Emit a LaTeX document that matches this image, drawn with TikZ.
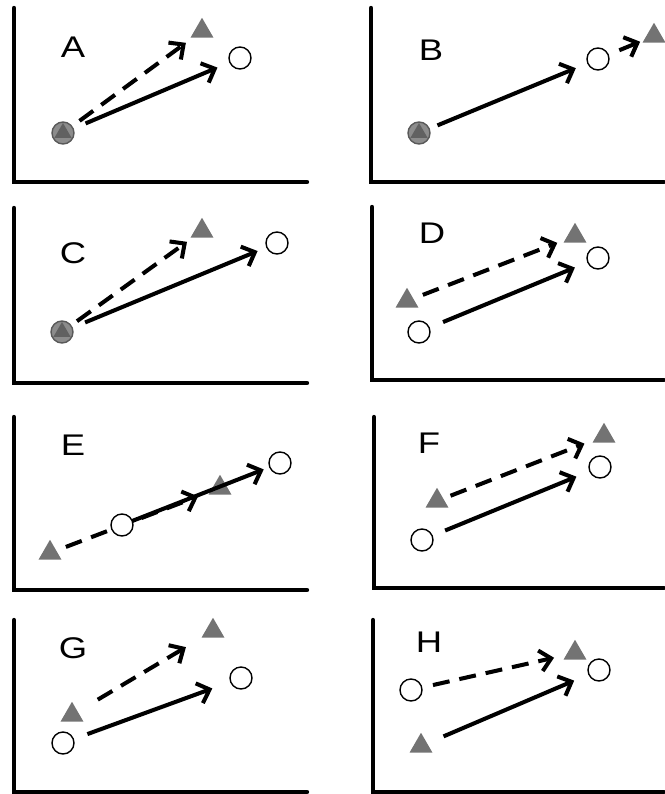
\documentclass[tikz,border=0pt]{standalone}
\usepackage{fontspec}
\setmainfont{Liberation Sans}
\newfontfamily\panelfont[FakeStretch=1.22]{Liberation Sans}
\usetikzlibrary{shapes.geometric, arrows.meta}

\begin{document}
\begin{tikzpicture}[x=0.02cm, y=-0.02cm,
    axis/.style={line width=2.5pt, line cap=round},
    circ/.style={circle, draw, line width=0.8pt, fill=white, minimum size=0.44cm, inner sep=0pt},
    tri/.style={regular polygon, regular polygon sides=3, fill=black!55, minimum size=0.53cm, inner sep=0pt, yshift=-0.06cm},
    both/.style={circle, draw=black!65, line width=0.8pt, fill=black!45, minimum size=0.44cm, inner sep=0pt,
      path picture={\fill[black!62] (path picture bounding box.center) ++(90:0.2cm) -- ++(-120:0.346cm) -- ++(0:0.346cm) -- cycle;}},
    move/.style={line width=2.3pt, -{Straight Barb[length=0.22cm, width=0.42cm]}},
    dmove/.style={move, dash pattern=on 0.34cm off 0.2cm},
    gap/.style 2 args={shorten <=#1, shorten >=#2},
    lbl/.style={font=\panelfont\fontsize{17}{17}\selectfont}]
  \useasboundingbox (0,0) rectangle (664,794);

  % A
  \draw[axis] (14,8) -- (14,182) -- (307,182);
  \node[lbl] (Alab) at (73,47) {A};
  \node[tri] (At) at (202,28) {};
  \node[circ] (Ac) at (240,58) {};
  \node[both] (As) at (63,133) {};
  \draw[dmove, gap={0.41cm}{0.40cm}] (As.center) -- (At.center);
  \draw[move, gap={0.49cm}{0.49cm}] (As.center) -- (Ac.center);

  % B
  \draw[axis] (371,8) -- (371,182) -- (664,182);
  \node[lbl] (Blab) at (431,50) {B};
  \node[tri] (Bt) at (654,33) {};
  \node[circ] (Bc) at (598,59) {};
  \node[both] (Bs) at (419,133) {};
  \draw[move, gap={0.40cm}{0.48cm}] (Bs.center) -- (Bc.center);
  \draw[dmove, gap={0.46cm}{0.30cm}] (Bc.center) -- (Bt.center);

  % C
  \draw[axis] (14,208) -- (14,383) -- (307,383);
  \node[lbl] (Clab) at (73,253) {C};
  \node[tri] (Ct) at (202,228) {};
  \node[circ] (Cc) at (277,243) {};
  \node[both] (Cs) at (62,332) {};
  \draw[dmove, gap={0.37cm}{0.37cm}] (Cs.center) -- (Ct.center);
  \draw[move, gap={0.50cm}{0.42cm}] (Cs.center) -- (Cc.center);

  % D
  \draw[axis] (372,207) -- (372,380) -- (664,380);
  \node[lbl] (Dlab) at (432,233) {D};
  \node[tri] (Dt1) at (407,298) {};
  \node[tri] (Dt2) at (575,233) {};
  \node[circ] (Dc1) at (419,332) {};
  \node[circ] (Dc2) at (598,258) {};
  \draw[dmove, gap={0.34cm}{0.38cm}] (Dt1.center) -- (Dt2.center);
  \draw[move, gap={0.52cm}{0.50cm}] (Dc1.center) -- (Dc2.center);

  % E
  \draw[axis] (14,417) -- (14,590) -- (307,590);
  \node[lbl] (Elab) at (73,445) {E};
  \node[tri] (Et1) at (50,550) {};
  \node[tri] (Et2) at (220,485) {};
  \node[circ] (Ec2) at (280,463) {};
  \draw[dmove, gap={0.34cm}{0.47cm}] (Et1.center) -- (Et2.center);
  \node[circ] (Ec1) at (122,525) {};
  \draw[move, gap={0.22cm}{0.35cm}] (Ec1.center) -- (Ec2.center);

  % F
  \draw[axis] (374,417) -- (374,588) -- (664,588);
  \node[lbl] (Flab) at (429,443) {F};
  \node[tri] (Ft1) at (437,498) {};
  \node[tri] (Ft2) at (604,433) {};
  \node[circ] (Fc1) at (422,540) {};
  \node[circ] (Fc2) at (600,467) {};
  \draw[dmove, gap={0.29cm}{0.42cm}] (Ft1.center) -- (Ft2.center);
  \draw[move, gap={0.50cm}{0.51cm}] (Fc1.center) -- (Fc2.center);

  % G
  \draw[axis] (14,620) -- (14,792) -- (307,792);
  \node[lbl] (Glab) at (73,648) {G};
  \node[tri] (Gt1) at (72,712) {};
  \node[tri] (Gt2) at (213,628) {};
  \node[circ] (Gc1) at (63,743) {};
  \node[circ] (Gc2) at (241,678) {};
  \draw[dmove, gap={0.60cm}{0.63cm}] (Gt1.center) -- (Gt2.center);
  \draw[move, gap={0.52cm}{0.61cm}] (Gc1.center) -- (Gc2.center);

  % H
  \draw[axis] (373,620) -- (373,792) -- (664,792);
  \node[lbl] (Hlab) at (429,642) {H};
  \node[circ] (Hc1) at (411,690) {};
  \node[tri] (Ht1) at (421,743) {};
  \node[tri] (Ht2) at (575,650) {};
  \node[circ] (Hc2) at (599,670) {};
  \draw[dmove, gap={0.45cm}{0.43cm}] (Hc1.center) -- (Ht2.center);
  \draw[move, gap={0.49cm}{0.54cm}] (Ht1.center) -- (Hc2.center);
\end{tikzpicture}
\end{document}
